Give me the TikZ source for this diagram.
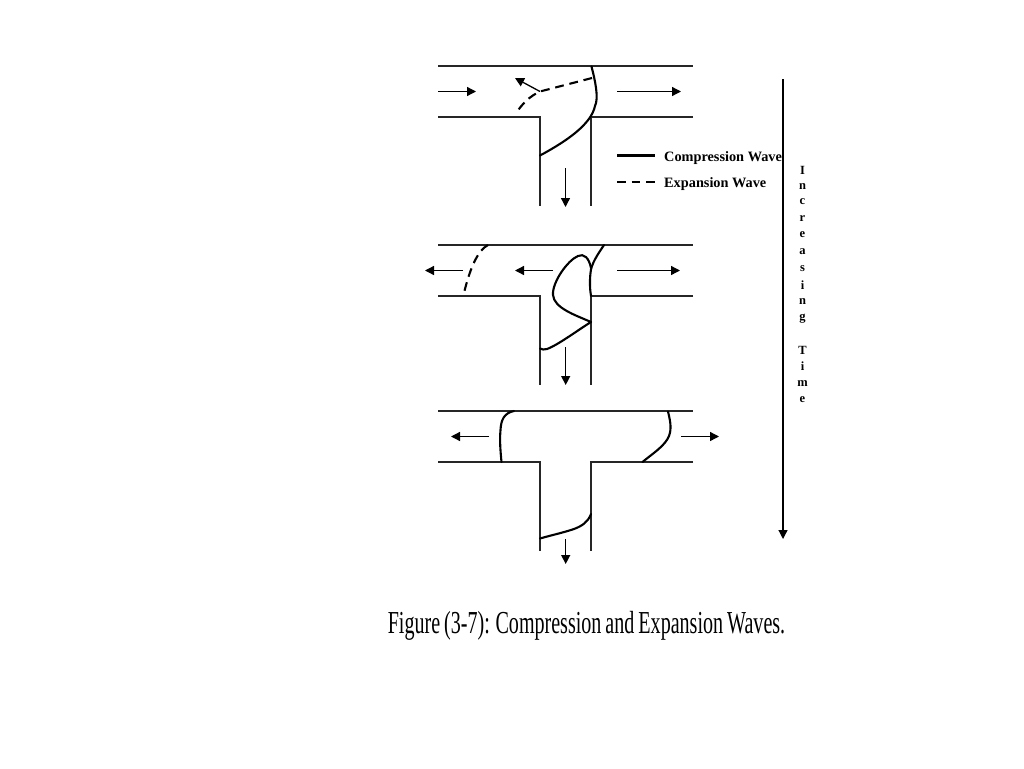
\documentclass[tikz,border=0pt]{standalone}
\usepackage{fontspec}
\setmainfont{Liberation Serif}
\usetikzlibrary{arrows.meta}
\tikzset{
  pipe/.style={line width=1.25pt,draw=black!85},
  wave/.style={line width=2.1pt,line cap=round,line join=round},
  expwave/.style={line width=2.1pt,dash pattern=on 8.8pt off 5.8pt},
  flow/.style={line width=1.3pt,-{Triangle[length=9pt,width=9pt]}},
  legendtext/.style={font=\bfseries\fontsize{14.3}{16}\selectfont,anchor=west,inner sep=0pt},
  letter/.style={font=\bfseries\fontsize{12.5}{14}\selectfont,inner sep=0pt},
}
\begin{document}
\begin{tikzpicture}[x=1pt,y=-1pt]
\useasboundingbox (0,0) rectangle (1024,768);
\fill[white] (0,0) rectangle (1024,768);
% pipes
\foreach \t/\e in {66/206,245/385,411/551}{
  \pgfmathsetmacro{\b}{\t+51}
  \draw[pipe] (438,\t) -- (693,\t);
  \draw[pipe] (438,\b) -- (540,\b) -- (540,\e);
  \draw[pipe] (693,\b) -- (591,\b) -- (591,\e);
}
% panel 1
\draw[wave] (591.5,66.5) .. controls (595,80) and (599,98) .. (595,106) .. controls (591,125) and (565,142) .. (540,155.5);
\draw[expwave] (592,78) -- (540,91.5) .. controls (530,96) and (522,104) .. (517,112);
\draw[flow] (540,91.5) -- (515,78);
\draw[flow] (438,91.5) -- (476,91.5);
\draw[flow] (617,91.5) -- (681,91.5);
\draw[flow] (565.5,168) -- (565.5,207);
% legend
\draw[wave,line cap=butt] (617,155.5) -- (655,155.5);
\draw[expwave] (617,182) -- (655,182);
\node[legendtext] (lc) at (664,158) {Compression Wave};
\node[legendtext] (le) at (664,184) {Expansion Wave};
% time
\draw[line width=1.25pt,-{Triangle[length=9pt,width=9pt]}] (783,79) -- (783,539);
\foreach \c/\y [count=\i] in {I/170.5,n/187,c/201.5,r/218.5,e/235,a/251.5,s/268.5,i/285,n/301.5,g/319,T/350,i/366.5,m/383.5,e/400}{
  \node[letter] (t\i) at (802.5,\y) {\c};
}
% panel 2
\draw[expwave] (488,245) .. controls (478,250) and (470,268) .. (464,293);
\draw[flow] (463,270.5) -- (425,270.5);
\draw[flow] (553,270.5) -- (515,270.5);
\draw[flow] (617,270.5) -- (680,270.5);
\draw[flow] (565.7,347) -- (565.7,385);
\draw[wave] (604,245) .. controls (598,254) and (591,264) .. (590.5,273) .. controls (589.5,282) and (590,290) .. (591,296);
\draw[wave] (591,268) .. controls (589,258) and (584,253) .. (578,256) .. controls (568,260) and (552,282) .. (553,295) .. controls (554,308) and (575,315) .. (591,322) .. controls (578,330) and (558,345) .. (547,349) .. controls (544,350) and (542,349.5) .. (540,348.5);
% panel 3
\draw[wave] (514,411) .. controls (504,413) and (501,420) .. (500.5,430) .. controls (499.5,440) and (500.5,452) .. (501.5,462);
\draw[wave] (668,411.5) .. controls (670,420) and (672,428) .. (669,436) .. controls (665,446) and (652,454) .. (642.5,462);
\draw[wave] (591,514) .. controls (588,522) and (582,526) .. (574,529) .. controls (562,533) and (552,535) .. (540,538.5);
\draw[flow] (489,436.5) -- (451,436.5);
\draw[flow] (681,436.5) -- (719,436.5);
\draw[flow] (565.7,539) -- (565.7,564);
% caption
\node[inner sep=0pt] (cap) at (586.5,626) {\scalebox{0.627}[1]{\fontsize{32}{34}\selectfont\spaceskip=0.2em Figure (3-7): Compression and Expansion Waves.}};
\end{tikzpicture}
\end{document}
